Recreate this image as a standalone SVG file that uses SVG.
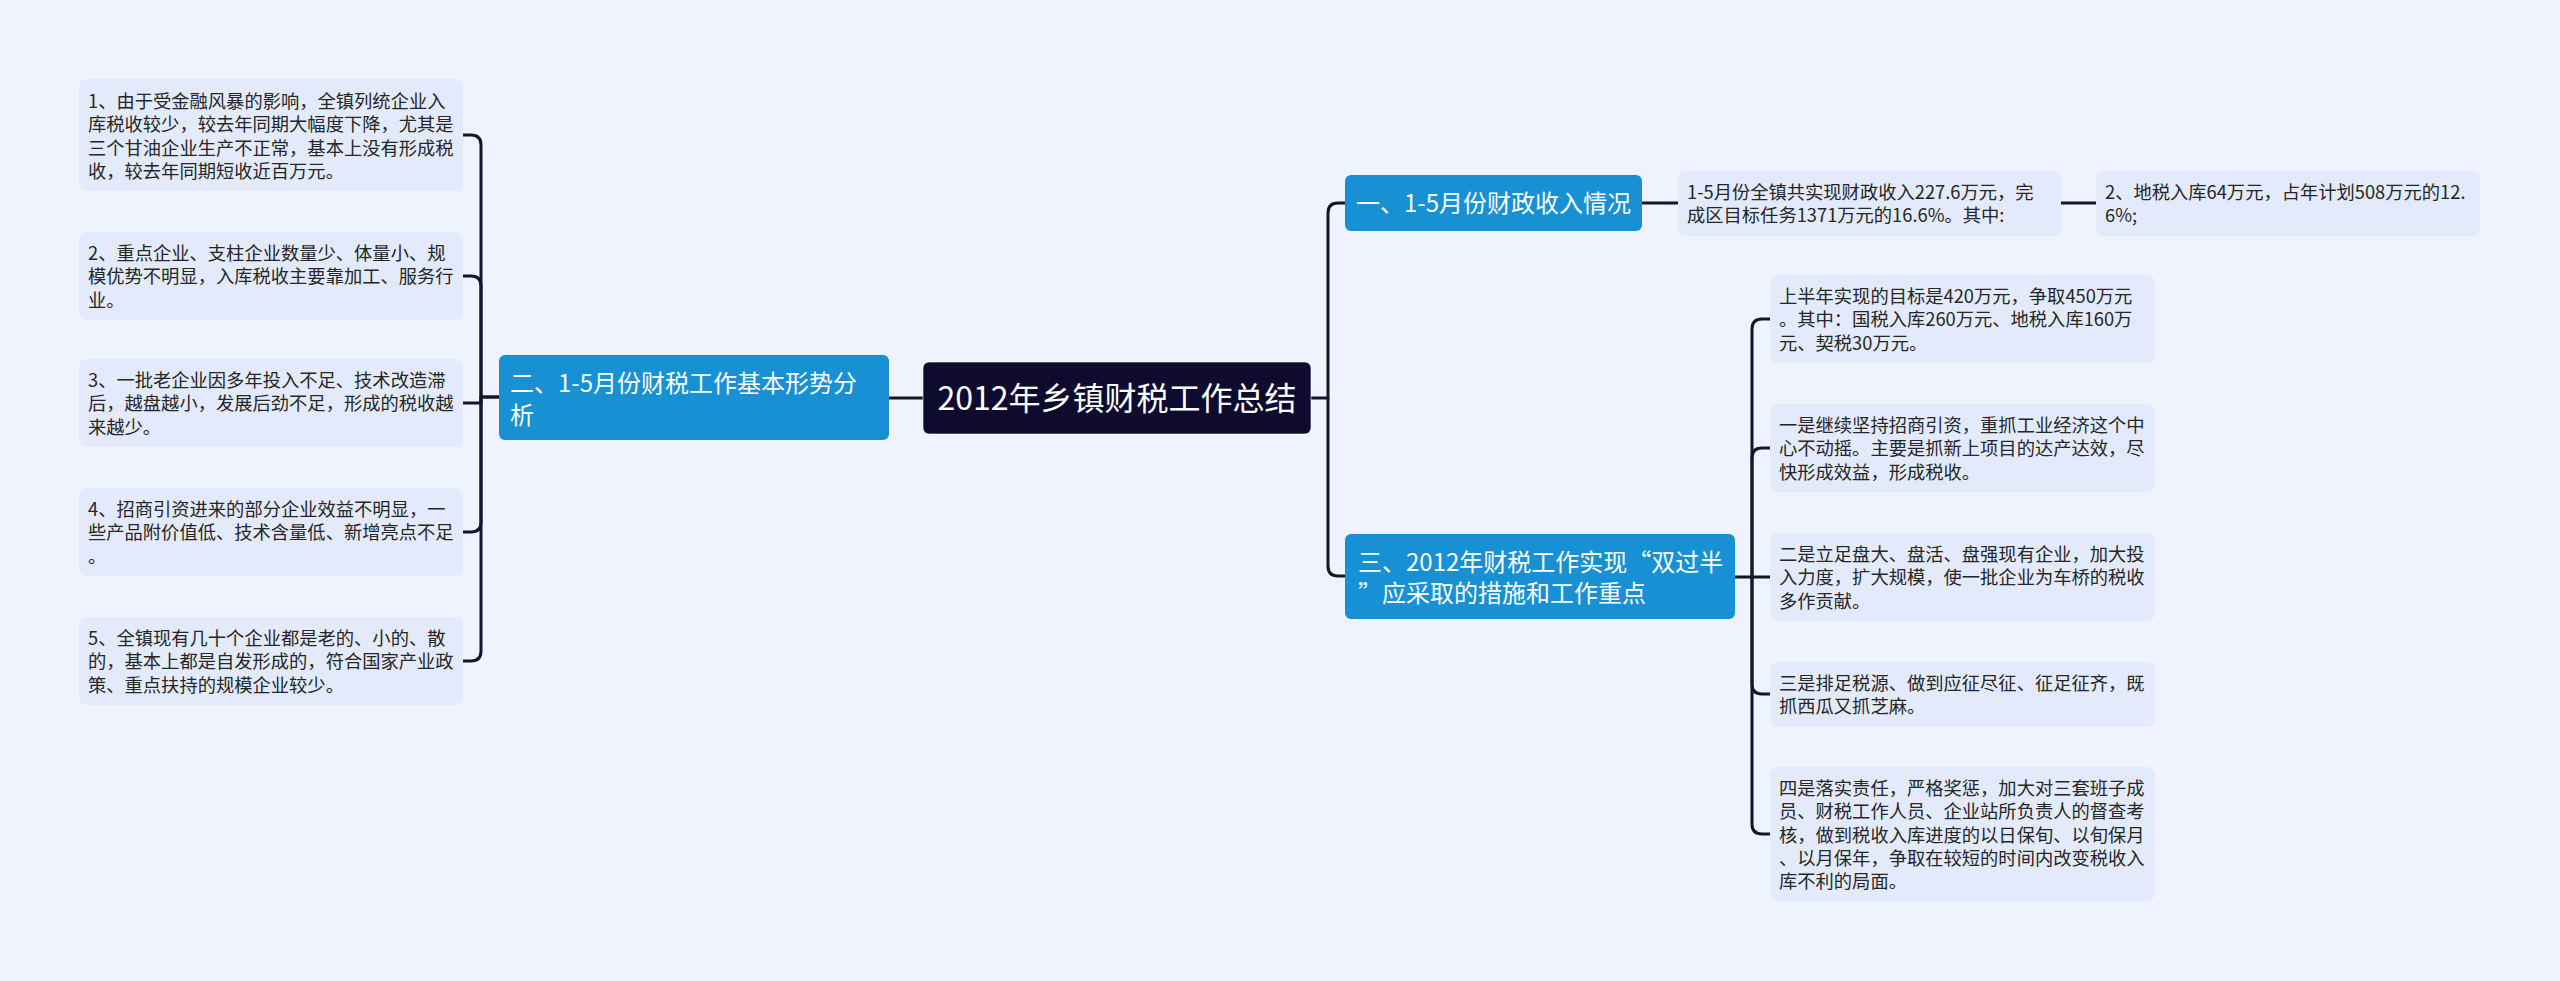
<svg xmlns="http://www.w3.org/2000/svg" width="2560" height="981" viewBox="0 0 2560 981">
<style>
.bg{fill:#EEF3FE}
.leaf rect{fill:#E2EAFB}
.leaf text{font-family:"Noto Sans CJK SC","Noto Sans",sans-serif;font-size:18.3px;fill:#262626}
.main rect{fill:#1890D4}
.main text{font-family:"Noto Sans CJK SC","Noto Sans",sans-serif;font-size:24px;fill:#ffffff}
.root rect{fill:#0E0B2F;stroke:#ffffff;stroke-opacity:0.6;stroke-width:1}
.root text{font-family:"Noto Sans CJK SC","Noto Sans",sans-serif;font-size:32px;fill:#ffffff;text-anchor:middle}
.conn path{fill:none;stroke:#16162a;stroke-width:3;stroke-linecap:round;stroke-linejoin:round}
</style>
<rect class="bg" x="0" y="0" width="2560" height="981"/>

<g class="conn" id="connectors">
  <path d="M923 398 H889"/>
  <path d="M499 397 H481 V145 Q481 135 471 135 H463"/>
  <path d="M481 397 V286 Q481 276 471 276 H463"/>
  <path d="M499 397 H481 V403 Q481 403 471 403 H463"/>
  <path d="M481 397 V522 Q481 532 471 532 H463"/>
  <path d="M481 397 V651 Q481 661 471 661 H463"/>
  <path d="M1311 398 H1328 V213 Q1328 203 1338 203 H1345"/>
  <path d="M1328 398 V566 Q1328 576 1338 576 H1345"/>
  <path d="M1642 203 H1678"/>
  <path d="M2061 203 H2096"/>
  <path d="M1735 577 H1752 V329 Q1752 319 1762 319 H1770"/>
  <path d="M1752 577 V458 Q1752 448 1762 448 H1770"/>
  <path d="M1752 577 H1770"/>
  <path d="M1752 577 V684 Q1752 694 1762 694 H1770"/>
  <path d="M1752 577 V824 Q1752 834 1762 834 H1770"/>
</g>

<g class="root" id="root">
  <rect x="923" y="362" width="388" height="72" rx="6"/>
  <text x="1117" y="410">2012年乡镇财税工作总结</text>
</g>

<g class="main" id="n2">
  <rect x="499" y="355" width="390" height="85" rx="6"/>
  <text x="510" y="392">二、1-5月份财税工作基本形势分</text>
  <text x="510" y="424">析</text>
</g>
<g class="main" id="n1">
  <rect x="1345" y="175" width="297" height="56" rx="6"/>
  <text x="1356" y="212">一、1-5月份财政收入情况</text>
</g>
<g class="main" id="n3">
  <rect x="1345" y="534" width="390" height="85" rx="6"/>
  <text x="1358" y="571">三、2012年财税工作实现“双过半</text>
  <text x="1358" y="602">”应采取的措施和工作重点</text>
</g>

<g class="leaf" id="l1">
  <rect x="79" y="79" width="384" height="112" rx="8"/>
  <text x="88" y="108">1、由于受金融风暴的影响，全镇列统企业入</text>
  <text x="88" y="131">库税收较少，较去年同期大幅度下降，尤其是</text>
  <text x="88" y="155">三个甘油企业生产不正常，基本上没有形成税</text>
  <text x="88" y="178">收，较去年同期短收近百万元。</text>
</g>
<g class="leaf" id="l2">
  <rect x="79" y="232" width="384" height="88" rx="8"/>
  <text x="88" y="260">2、重点企业、支柱企业数量少、体量小、规</text>
  <text x="88" y="283">模优势不明显，入库税收主要靠加工、服务行</text>
  <text x="88" y="307">业。</text>
</g>
<g class="leaf" id="l3">
  <rect x="79" y="359" width="384" height="88" rx="8"/>
  <text x="88" y="387">3、一批老企业因多年投入不足、技术改造滞</text>
  <text x="88" y="410">后，越盘越小，发展后劲不足，形成的税收越</text>
  <text x="88" y="434">来越少。</text>
</g>
<g class="leaf" id="l4">
  <rect x="79" y="488" width="384" height="88" rx="8"/>
  <text x="88" y="516">4、招商引资进来的部分企业效益不明显，一</text>
  <text x="88" y="539">些产品附价值低、技术含量低、新增亮点不足</text>
  <text x="88" y="563">。</text>
</g>
<g class="leaf" id="l5">
  <rect x="79" y="617" width="384" height="88" rx="8"/>
  <text x="88" y="645">5、全镇现有几十个企业都是老的、小的、散</text>
  <text x="88" y="668">的，基本上都是自发形成的，符合国家产业政</text>
  <text x="88" y="692">策、重点扶持的规模企业较少。</text>
</g>

<g class="leaf" id="r1">
  <rect x="1678" y="171" width="383" height="65" rx="8"/>
  <text x="1687" y="199">1-5月份全镇共实现财政收入227.6万元，完</text>
  <text x="1687" y="222">成区目标任务1371万元的16.6%。其中:</text>
</g>
<g class="leaf" id="r2">
  <rect x="2096" y="171" width="384" height="65" rx="8"/>
  <text x="2105" y="199">2、地税入库64万元，占年计划508万元的12.</text>
  <text x="2105" y="222">6%;</text>
</g>

<g class="leaf" id="s1">
  <rect x="1770" y="275" width="385" height="88" rx="8"/>
  <text x="1779" y="303">上半年实现的目标是420万元，争取450万元</text>
  <text x="1779" y="326">。其中：国税入库260万元、地税入库160万</text>
  <text x="1779" y="350">元、契税30万元。</text>
</g>
<g class="leaf" id="s2">
  <rect x="1770" y="404" width="385" height="88" rx="8"/>
  <text x="1779" y="432">一是继续坚持招商引资，重抓工业经济这个中</text>
  <text x="1779" y="455">心不动摇。主要是抓新上项目的达产达效，尽</text>
  <text x="1779" y="479">快形成效益，形成税收。</text>
</g>
<g class="leaf" id="s3">
  <rect x="1770" y="533" width="385" height="88" rx="8"/>
  <text x="1779" y="561">二是立足盘大、盘活、盘强现有企业，加大投</text>
  <text x="1779" y="584">入力度，扩大规模，使一批企业为车桥的税收</text>
  <text x="1779" y="608">多作贡献。</text>
</g>
<g class="leaf" id="s4">
  <rect x="1770" y="662" width="385" height="65" rx="8"/>
  <text x="1779" y="690">三是排足税源、做到应征尽征、征足征齐，既</text>
  <text x="1779" y="713">抓西瓜又抓芝麻。</text>
</g>
<g class="leaf" id="s5">
  <rect x="1770" y="767" width="385" height="134" rx="8"/>
  <text x="1779" y="795">四是落实责任，严格奖惩，加大对三套班子成</text>
  <text x="1779" y="818">员、财税工作人员、企业站所负责人的督查考</text>
  <text x="1779" y="842">核，做到税收入库进度的以日保旬、以旬保月</text>
  <text x="1779" y="865">、以月保年，争取在较短的时间内改变税收入</text>
  <text x="1779" y="888">库不利的局面。</text>
</g>
</svg>
